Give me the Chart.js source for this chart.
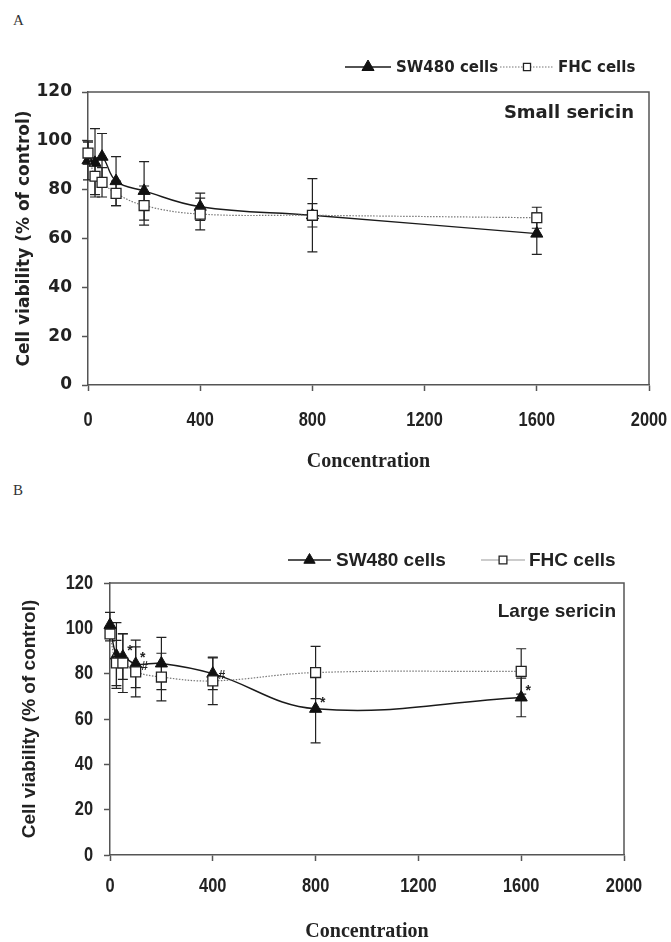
<!DOCTYPE html>
<html>
<head>
<meta charset="utf-8">
<script src="https://cdn.jsdelivr.net/npm/chart.js@4.4.1/dist/chart.umd.min.js"></script>
<style>
  html, body { margin: 0; padding: 0; background: #fff; }
  body { width: 671px; height: 942px; position: relative; overflow: hidden; }
  .panel { position: absolute; left: 0; width: 671px; }
  .tag { position: absolute; left: 13px; font: 15px 'Liberation Serif', serif; color: #333; }
</style>
</head>
<body>
<div class="tag" style="top:12px">A</div>
<div class="tag" style="top:482px">B</div>
<div class="panel" style="top:0"><canvas id="chartA" width="671" height="474"></canvas></div>
<div class="panel" style="top:470px"><canvas id="chartB" width="671" height="474"></canvas></div>
<script>
// concentrations tested (same for both panels)
const concentrations = [0, 25, 50, 100, 200, 400, 800, 1600];
const xTicks = [0, 400, 800, 1200, 1600, 2000];
const yTicks = [0, 20, 40, 60, 80, 100, 120];

// A - small sericin
const swSmall    = [92, 91, 93.5, 83.5, 79.5, 73, 69.5, 62];
const swSmallErr = [8, 14, 9.5, 10, 12, 5.6, 15, 8.5];
const fhcSmall    = [95, 85.5, 83, 78.5, 73.5, 70, 69.5, 68.5];
const fhcSmallErr = [4.5, 7.5, 6, 5, 8, 6.5, 4.8, 4.3];

// B - large sericin
const swLarge    = [101.5, 88, 87.5, 84.3, 84.5, 80, 64.5, 69.5];
const swLargeErr = [5.5, 14.5, 10, 10.5, 11.5, 7, 15, 8.5];
const fhcLarge    = [97.5, 84.7, 84.7, 80.8, 78.5, 76.8, 80.5, 81];
const fhcLargeErr = [3, 10, 13, 11, 10.5, 10.5, 11.5, 10];
const swLargeMarks  = ['', '', '*', '*', '', '', '*', '*'];
const fhcLargeMarks = ['', '', '', '#', '', '#', '', ''];

const seriesNames = ['SW480 cells', 'FHC cells'];
const yTitle = 'Cell viability (% of control)';
const xTitle = 'Concentration';

const INK = '#222';
const NARROW_FONT = "bold 20px 'Liberation Sans', Arial, sans-serif";
const NARROW_SCALE = 0.82;

function pts(vals) {
  return concentrations.map((c, i) => ({ x: c, y: vals[i] }));
}

// condensed tick label, squeezed horizontally
function narrowText(ctx, txt, x, y, align) {
  ctx.save();
  ctx.translate(x, y);
  ctx.scale(NARROW_SCALE, 1);
  ctx.font = NARROW_FONT;
  ctx.fillStyle = INK;
  ctx.textAlign = align;
  ctx.textBaseline = 'middle';
  ctx.fillText(txt, 0, 0);
  ctx.restore();
}

// error bars, frame, condensed ticks, legend, notes
const decor = {
  id: 'decor',
  beforeDatasetsDraw(chart) {
    const { ctx, scales: { x, y } } = chart;
    ctx.save();
    ctx.strokeStyle = INK;
    ctx.lineWidth = 1.2;
    chart.data.datasets.forEach(ds => {
      if (!ds.err) return;
      ds.data.forEach((p, i) => {
        const px = x.getPixelForValue(p.x);
        const hi = y.getPixelForValue(p.y + ds.err[i]);
        const lo = y.getPixelForValue(p.y - ds.err[i]);
        ctx.beginPath();
        ctx.moveTo(px, hi); ctx.lineTo(px, lo);
        ctx.moveTo(px - 5, hi); ctx.lineTo(px + 5, hi);
        ctx.moveTo(px - 5, lo); ctx.lineTo(px + 5, lo);
        ctx.stroke();
      });
    });
    ctx.restore();
  },
  afterDraw(chart, args, o) {
    const { ctx, chartArea: a, scales: { x, y } } = chart;
    ctx.save();
    // top and right frame
    ctx.strokeStyle = '#555';
    ctx.lineWidth = 1.5;
    ctx.beginPath();
    ctx.moveTo(a.left, a.top); ctx.lineTo(a.right, a.top); ctx.lineTo(a.right, a.bottom);
    ctx.stroke();

    // condensed tick labels
    if (o.narrowX) {
      x.ticks.forEach(t => narrowText(ctx, String(t.value), x.getPixelForValue(t.value), a.bottom + o.narrowX, 'center'));
    }
    if (o.narrowY) {
      y.ticks.forEach(t => narrowText(ctx, String(t.value), a.left - o.narrowY, y.getPixelForValue(t.value), 'right'));
    }

    // legend
    const dsets = chart.data.datasets;
    o.legend.forEach((L, k) => {
      const ds = dsets[k];
      ctx.strokeStyle = L.lineColor || ds.borderColor;
      ctx.lineWidth = ds.borderWidth;
      ctx.setLineDash(L.dash || []);
      ctx.beginPath();
      ctx.moveTo(L.x1, o.legendY); ctx.lineTo(L.x2, o.legendY);
      ctx.stroke();
      ctx.setLineDash([]);
      ctx.fillStyle = ds.pointBackgroundColor;
      ctx.strokeStyle = ds.pointBorderColor;
      ctx.lineWidth = ds.pointBorderWidth;
      Chart.helpers.drawPoint(ctx, { pointStyle: ds.pointStyle, radius: L.r, borderWidth: ds.pointBorderWidth, rotation: 0 },
        (L.x1 + L.x2) / 2, o.legendY);
      ctx.fillStyle = INK;
      ctx.font = o.legendFont;
      ctx.textAlign = 'left';
      ctx.textBaseline = 'middle';
      ctx.fillText(ds.label, L.tx, o.legendY + 1);
    });

    // panel note
    ctx.font = o.noteFont;
    ctx.textAlign = 'right';
    ctx.textBaseline = 'alphabetic';
    ctx.fillStyle = INK;
    ctx.fillText(o.note, o.noteX, o.noteY);

    // significance marks
    dsets.forEach(ds => {
      if (!ds.marks) return;
      ds.data.forEach((p, i) => {
        const m = ds.marks[i];
        if (!m) return;
        const px = x.getPixelForValue(p.x), py = y.getPixelForValue(p.y);
        ctx.font = m === '*' ? "bold 14px 'Liberation Sans'" : "bold 12px 'Liberation Sans'";
        ctx.textAlign = 'center';
        ctx.textBaseline = 'middle';
        ctx.fillText(m, px + (m === '*' ? 7 : 9), py + (m === '*' ? -6 : -5));
      });
    });
    ctx.restore();
  }
};

function makeChart(id, p) {
  const datasets = [
    {
      label: seriesNames[1],
      data: pts(p.fhc), err: p.fhcErr, marks: p.fhcMarks,
      borderColor: '#777', borderWidth: 1.2, borderDash: [1.5, 1.5],
      tension: 0.4, clip: false, order: 0,
      pointStyle: 'rect', pointRadius: 7, pointBackgroundColor: '#fff',
      pointBorderColor: INK, pointBorderWidth: 1.3
    },
    {
      label: seriesNames[0],
      data: pts(p.sw), err: p.swErr, marks: p.swMarks,
      borderColor: '#1a1a1a', borderWidth: 1.4,
      tension: 0.4, clip: false, order: 1,
      pointStyle: 'triangle', pointRadius: 7, pointBackgroundColor: '#111',
      pointBorderColor: '#111', pointBorderWidth: 1
    }
  ];
  return new Chart(document.getElementById(id), {
    type: 'line',
    data: { datasets },
    plugins: [decor],
    options: {
      responsive: false,
      animation: false,
      devicePixelRatio: 1,
      events: [],
      layout: { padding: { top: p.top, right: p.right, left: 0, bottom: 0 } },
      plugins: {
        legend: { display: false },
        tooltip: { enabled: false },
        decor: {
          legendY: p.legendY, legendFont: p.legendFont, legend: p.legend,
          note: p.note, noteFont: p.noteFont, noteX: p.noteX, noteY: p.noteY,
          narrowX: p.narrowX, narrowY: p.narrowY
        }
      },
      scales: {
        x: {
          type: 'linear', min: 0, max: 2000,
          afterBuildTicks: s => { s.ticks = xTicks.map(v => ({ value: v })); },
          afterFit: s => { s.height = p.xH; },
          border: { color: '#555', width: 1.5 },
          grid: { drawOnChartArea: false, tickLength: 6, tickColor: '#555', tickWidth: 1.5 },
          ticks: { display: false },
          title: { display: true, text: xTitle, color: INK, padding: 0,
                   font: { family: "'Liberation Serif', serif", weight: 'bold', size: 20 } }
        },
        y: {
          min: 0, max: 120,
          afterBuildTicks: s => { s.ticks = yTicks.map(v => ({ value: v })); },
          afterFit: s => { s.width = p.yW; },
          border: { color: '#555', width: 1.5 },
          grid: { drawOnChartArea: false, tickLength: 6, tickColor: '#555', tickWidth: 1.5 },
          ticks: p.narrowY ? { display: false } : { padding: p.yPad, color: INK, font: p.yTickFont },
          title: { display: true, text: yTitle, color: INK, padding: { top: p.yTitlePad, bottom: 0 }, font: p.yTitleFont }
        }
      }
    }
  });
}

makeChart('chartA', {
  sw: swSmall, swErr: swSmallErr, fhc: fhcSmall, fhcErr: fhcSmallErr,
  top: 92, right: 22, yW: 88, xH: 89, yPad: 10, narrowX: 35, narrowY: 0,
  yTickFont: { family: "'DejaVu Sans'", weight: 'bold', size: 17 },
  yTitleFont: { family: "'DejaVu Sans'", weight: 'bold', size: 17 }, yTitlePad: 14,
  legendY: 67, legendFont: "bold 15px 'DejaVu Sans'",
  legend: [
    { x1: 500, x2: 554, r: 5, tx: 558, dash: [1.5, 1.5] },
    { x1: 345, x2: 391, r: 7, tx: 396 }
  ],
  note: 'Small sericin', noteFont: "bold 18px 'DejaVu Sans'", noteX: 634, noteY: 118
});

makeChart('chartB', {
  sw: swLarge, swErr: swLargeErr, swMarks: swLargeMarks,
  fhc: fhcLarge, fhcErr: fhcLargeErr, fhcMarks: fhcLargeMarks,
  top: 113, right: 47, yW: 110, xH: 89, narrowX: 31, narrowY: 17,
  yTitleFont: { family: "'Liberation Sans'", weight: 'bold', size: 19 }, yTitlePad: 18,
  legendY: 90, legendFont: "bold 19px 'Liberation Sans'",
  legend: [
    { x1: 481, x2: 525, r: 5.5, tx: 529, lineColor: '#999' },
    { x1: 288, x2: 331, r: 6.5, tx: 336 }
  ],
  note: 'Large sericin', noteFont: "bold 19px 'Liberation Sans'", noteX: 616, noteY: 147
});
</script>
</body>
</html>
